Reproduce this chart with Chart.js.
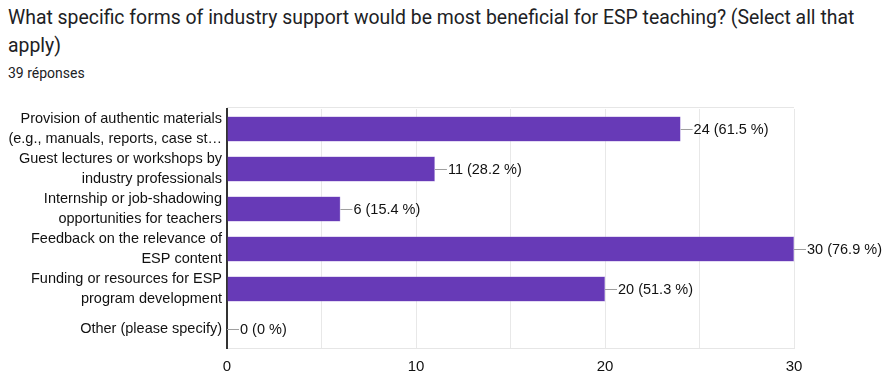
<!DOCTYPE html>
<html lang="fr">
<head>
    <meta charset="UTF-8">
    <title>Industry support for ESP teaching</title>
    <style>
        * {
            margin: 0;
            padding: 0;
            box-sizing: border-box;
        }

        body {
            width: 893px;
            height: 374px;
            background: #fff;
            overflow: hidden;
            position: relative;
        }

        /* Question header */
        .title {
            position: absolute;
            left: 8px;
            top: 4px;
            font-family: Roboto, sans-serif;
            font-size: 19.4px;
            line-height: 28px;
            color: #202124;
            white-space: nowrap;
        }

        .count {
            position: absolute;
            left: 8px;
            top: 65px;
            font-family: Roboto, sans-serif;
            font-size: 14px;
            color: #202124;
        }

        canvas {
            position: absolute;
            left: 0;
            top: 0;
        }
    </style>
</head>
<body>
    <div class="title">What specific forms of industry support would be most beneficial for ESP teaching? (Select all that<br>apply)</div>
    <div class="count">39 réponses</div>
    <canvas id="chart" width="893" height="374"></canvas>

    <script src="https://cdn.jsdelivr.net/npm/chart.js"></script>
    <script>
        // answers, split in lines like on the picture
        const categories = [
            ['Provision of authentic materials', '(e.g., manuals, reports, case st\u2026'],
            ['Guest lectures or workshops by', 'industry professionals'],
            ['Internship or job-shadowing', 'opportunities for teachers'],
            ['Feedback on the relevance of', 'ESP content'],
            ['Funding or resources for ESP', 'program development'],
            'Other (please specify)'
        ];
        const counts = [24, 11, 6, 30, 20, 0];
        const percents = ['61.5', '28.2', '15.4', '76.9', '51.3', '0'];
        const xTicks = [0, 10, 20, 30];

        const fontFamily = '"Liberation Sans", Arial, sans-serif';
        const labelFont = '14.5px ' + fontFamily;

        // grey leader line + "n (p %)" after each bar, and the top border
        const barLabels = {
            id: 'barLabels',
            afterDatasetsDraw(chart) {
                const ctx = chart.ctx;
                const area = chart.chartArea;
                const meta = chart.getDatasetMeta(0);

                ctx.save();
                ctx.strokeStyle = '#e6e6e6';
                ctx.lineWidth = 1;
                ctx.beginPath();
                ctx.moveTo(area.left, area.top - 1.5);
                ctx.lineTo(area.right, area.top - 1.5);
                ctx.stroke();

                ctx.font = labelFont;
                ctx.fillStyle = '#111';
                ctx.textBaseline = 'middle';
                meta.data.forEach((bar, i) => {
                    const x = bar.x;
                    const y = bar.y;
                    ctx.strokeStyle = '#9e9e9e';
                    ctx.beginPath();
                    ctx.moveTo(x, y + 0.5);
                    ctx.lineTo(x + 12, y + 0.5);
                    ctx.stroke();
                    ctx.fillText(counts[i] + ' (' + percents[i] + ' %)', x + 13, y + 1);
                });
                ctx.restore();
            }
        };

        new Chart(document.getElementById('chart'), {
            type: 'bar',
            data: {
                labels: categories,
                datasets: [{
                    data: counts,
                    backgroundColor: '#673ab7',
                    borderColor: '#8e6bd0',
                    borderWidth: 0.5,
                    barPercentage: 1,
                    categoryPercentage: 0.625
                }]
            },
            options: {
                indexAxis: 'y',
                responsive: false,
                animation: false,
                layout: {
                    padding: { top: 109, right: 99, bottom: 0, left: 0 }
                },
                plugins: {
                    legend: { display: false },
                    tooltip: { enabled: false }
                },
                scales: {
                    x: {
                        min: 0,
                        max: 30,
                        afterFit: scale => { scale.height = 24; },
                        afterBuildTicks: scale => {
                            scale.ticks = [0, 5, 10, 15, 20, 25, 30].map(v => ({ value: v }));
                        },
                        ticks: {
                            padding: 9,
                            color: '#111',
                            font: { family: fontFamily, size: 15 },
                            callback: v => xTicks.includes(v) ? String(v) : ''
                        },
                        grid: {
                            color: '#e8e8e8',
                            drawTicks: false
                        },
                        border: { color: '#e6e6e6' }
                    },
                    y: {
                        afterFit: scale => { scale.width = 227; },
                        ticks: {
                            padding: 5,
                            color: '#111',
                            font: { family: fontFamily, size: 14.5, lineHeight: 1.38 }
                        },
                        grid: { display: false, drawTicks: false },
                        border: { color: '#333', width: 2 }
                    }
                }
            },
            plugins: [barLabels]
        });
    </script>
</body>
</html>
